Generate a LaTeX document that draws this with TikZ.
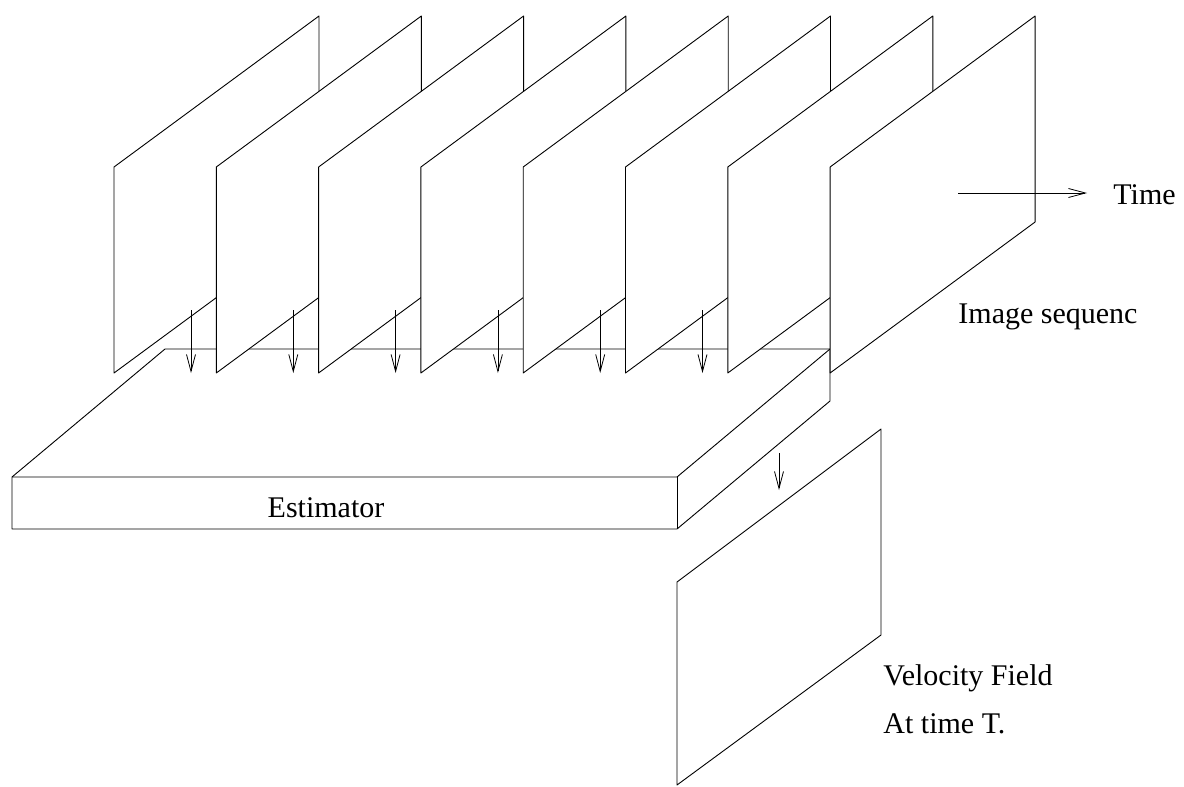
\documentclass[tikz,border=0pt]{standalone}
\usepackage{fontspec}
\setmainfont{Liberation Serif}
\usetikzlibrary{arrows.meta}
\begin{document}
\begin{tikzpicture}[x=1pt,y=-1pt,line width=0.9pt,
  frame/.style={draw=black,fill=white,line join=round},
  flow/.style={-{Straight Barb[length=17pt,width=9pt]},line width=0.8pt},
  caption/.style={anchor=base west,inner sep=0pt,font=\fontsize{30}{36}\selectfont}]
\useasboundingbox (0,0) rectangle (1184,787);

% estimator slab: front face, top face and right face
\coordinate (fTL) at (12,477);
\coordinate (fTR) at (677,477);
\coordinate (fBR) at (677,529);
\coordinate (fBL) at (12,529);
\coordinate (bTL) at (165,349);
\coordinate (bTR) at (830,349);
\coordinate (bBR) at (830,401);
\filldraw[frame] (fBL) -- (fTL) -- (bTL) -- (bTR) -- (bBR) -- (fBR) -- cycle;
\draw[line join=round] (fTL) -- (fTR) -- (bTR);
\draw (fTR) -- (fBR);
\node[caption,anchor=base] (est) at (326,517) {Estimator};

% image sequence frames, back to front
\foreach \k in {0,...,7}{
  \pgfmathsetmacro{\lx}{114+102.3*\k}
  \coordinate (p\k BL) at (\lx,373);
  \coordinate (p\k TL) at (\lx,167);
  \coordinate (p\k TR) at (\lx+205,16);
  \coordinate (p\k BR) at (\lx+205,222);
  \filldraw[frame] (p\k BL) -- (p\k TL) -- (p\k TR) -- (p\k BR) -- cycle;
}

% frames feeding the estimator
\foreach \k in {0,...,5}{
  \pgfmathsetmacro{\ax}{191+102.3*\k}
  \coordinate (in\k) at (\ax,310);
  \coordinate (out\k) at (\ax,373);
  \draw[flow] (in\k) -- (out\k);
}

% time axis
\coordinate (t0) at (958,193);
\coordinate (t1) at (1087,193);
\draw[flow] (t0) -- (t1);
\node[caption] (time) at (1113,204) {Time};
\node[caption] (seq) at (958,323) {Image sequenc};

% estimated velocity field
\coordinate (v0) at (779,453);
\coordinate (v1) at (779,490);
\draw[flow] (v0) -- (v1);
\filldraw[frame] (677,785) -- (677,582) -- (881,429) -- (881,635) -- cycle;
\node[caption] (vel) at (883,685) {Velocity Field};
\node[caption] (att) at (883,733) {At time T.};
\end{tikzpicture}
\end{document}
